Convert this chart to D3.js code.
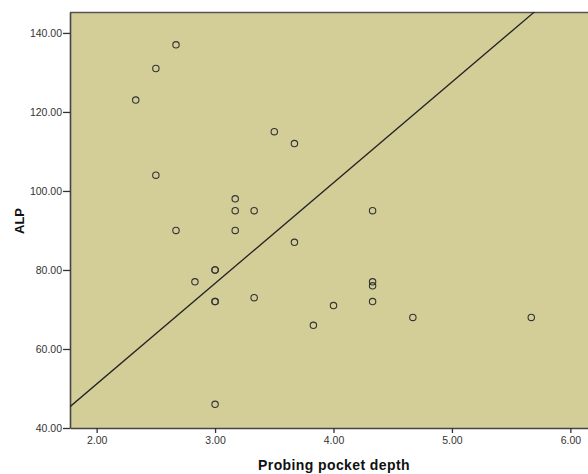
<!DOCTYPE html>
<html>
<head>
<meta charset="utf-8">
<script src="https://cdn.jsdelivr.net/npm/d3@7"></script>
<style>
  html, body { margin: 0; padding: 0; background: #ffffff; }
  svg { display: block; }
</style>
</head>
<body>
<svg id="chart" width="588" height="474"></svg>
<script>
// ---- data ----
const depth = [2.33, 2.5, 2.67, 2.5, 2.67, 2.83, 3.0, 3.0, 3.0, 3.0, 3.0,
               3.17, 3.17, 3.17, 3.33, 3.33, 3.5, 3.67, 3.67, 3.83, 4.0,
               4.33, 4.33, 4.33, 4.33, 4.67, 5.67];
const alp   = [123, 131, 137, 104, 90, 77, 80, 80, 72, 72, 46,
               98, 95, 90, 95, 73, 115, 112, 87, 66, 71,
               95, 77, 76, 72, 68, 68];
const fitX = [1.775, 5.70];
const fitY = [45.4, 145.4];
const xTicks = [2, 3, 4, 5, 6];
const yTicks = [40, 60, 80, 100, 120, 140];
const xTitle = "Probing pocket depth";
const yTitle = "ALP";

// ---- layout ----
const svg = d3.select("#chart");
const pL = 70, pT = 12, pB = 428, pR = 588;
const x = d3.scaleLinear().domain([1.775, 6.149]).range([pL, pR]);
const y = d3.scaleLinear().domain([40, 145.3]).range([pB, pT]);

// plot background
svg.append("rect")
  .attr("x", pL).attr("y", pT)
  .attr("width", pR - pL + 20).attr("height", pB - pT)
  .attr("fill", "#d3ce98");

// top border
svg.append("line")
  .attr("x1", pL).attr("x2", pR + 20)
  .attr("y1", pT + 0.5).attr("y2", pT + 0.5)
  .attr("stroke", "#555").attr("stroke-width", 1.3);

const fmt = d3.format(".2f");

// axes
const xAxis = svg.append("g")
  .attr("transform", `translate(0,${pB})`)
  .call(d3.axisBottom(x).tickValues(xTicks).tickFormat(fmt).tickSize(5).tickSizeOuter(0));
const yAxis = svg.append("g")
  .attr("transform", `translate(${pL},0)`)
  .call(d3.axisLeft(y).tickValues(yTicks).tickFormat(fmt).tickSize(7).tickSizeOuter(0));

[xAxis, yAxis].forEach(g => {
  g.select(".domain").attr("stroke", "#444").attr("stroke-width", 1.6);
  g.selectAll(".tick line").attr("stroke", "#333").attr("stroke-width", 1.3);
  g.selectAll(".tick text")
    .attr("fill", "#333")
    .style("font-family", "'Liberation Sans', Arial, sans-serif")
    .style("font-size", "10.5px");
});
xAxis.selectAll(".tick text").attr("dy", "0.95em").attr("y", 6);
yAxis.selectAll(".tick text").attr("x", -8);

// clip for fit line
svg.append("clipPath").attr("id", "plotclip")
  .append("rect").attr("x", pL).attr("y", pT)
  .attr("width", pR - pL + 20).attr("height", pB - pT);

// fit line
svg.append("line")
  .attr("clip-path", "url(#plotclip)")
  .attr("x1", x(fitX[0])).attr("y1", y(fitY[0]))
  .attr("x2", x(fitX[1])).attr("y2", y(fitY[1]))
  .attr("stroke", "#222").attr("stroke-width", 1.3);

// points
svg.append("g").selectAll("circle")
  .data(depth.map((d, i) => [d, alp[i]]))
  .join("circle")
  .attr("cx", d => x(d[0]))
  .attr("cy", d => y(d[1]))
  .attr("r", 3.2)
  .attr("fill", "none")
  .attr("stroke", "#333")
  .attr("stroke-width", 1.1);

// titles
svg.append("text")
  .attr("x", 334).attr("y", 469.5)
  .attr("text-anchor", "middle")
  .style("font-family", "'Liberation Sans', Arial, sans-serif")
  .style("font-weight", "bold")
  .style("font-size", "14px")
  .style("letter-spacing", "0.4px")
  .attr("fill", "#111")
  .text(xTitle);

svg.append("text")
  .attr("transform", "translate(24,221) rotate(-90)")
  .attr("text-anchor", "middle")
  .style("font-family", "'Liberation Sans', Arial, sans-serif")
  .style("font-weight", "bold")
  .style("font-size", "13px")
  .attr("fill", "#111")
  .text(yTitle);
</script>
</body>
</html>
